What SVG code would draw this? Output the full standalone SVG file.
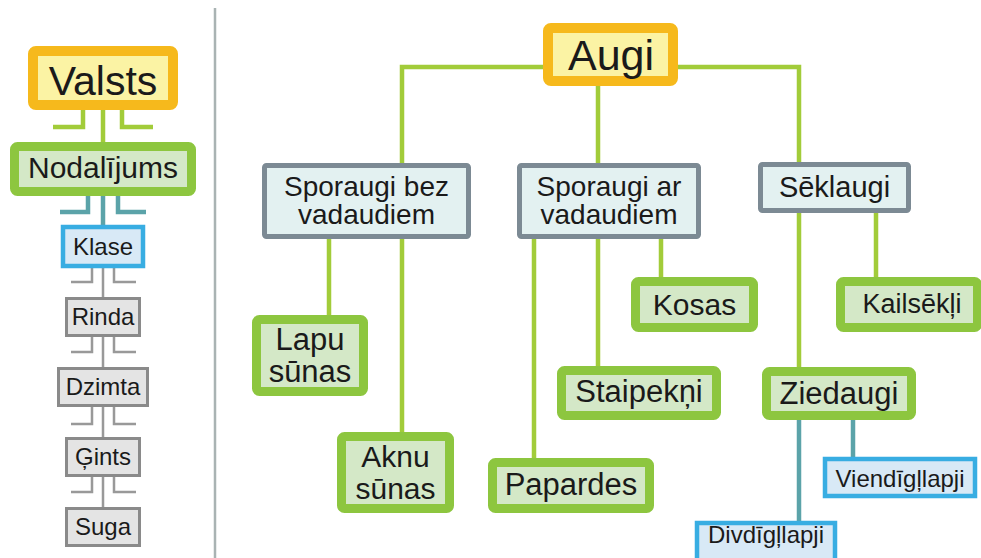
<svg xmlns="http://www.w3.org/2000/svg" width="981" height="558" viewBox="0 0 981 558">
<style>
text{font-family:"Liberation Sans",Arial,sans-serif;fill:#1a1a1a;text-anchor:middle}
.or{fill:#fbf3a4;stroke:#f6b91c;stroke-width:10}
.gr{fill:#d4e8c7;stroke:#8dc63f;stroke-width:9}
.sl{fill:#e3f1f1;stroke:#7c8a94;stroke-width:5}
.bl{fill:#d8e9f6;stroke:#38ade2;stroke-width:4.5}
.gy{fill:#e4e4e4;stroke:#8a8a8a;stroke-width:3}
.lg{fill:none;stroke:#a2cc3a;stroke-width:4.5}
.lt{fill:none;stroke:#5ba3a9;stroke-width:4.5}
.ly{fill:none;stroke:#999;stroke-width:2.5}
</style>
<rect width="981" height="558" fill="#fff"/>
<line x1="215" y1="8" x2="215" y2="558" stroke="#a9b3b3" stroke-width="2.5"/>
<g id="connectors">
<path class="lg" d="M103,110V142M83,110V127H53M122,110V127H153"/>
<path class="lt" d="M103,196V225M88,196V212H60M118,196V212H146"/>
<path class="ly" d="M103,268V297M92,268V282H71M114,268V282H136"/>
<path class="ly" d="M103,337V367M92,337V352H71M114,337V352H136"/>
<path class="ly" d="M103,407V437M92,407V424H71M114,407V424H136"/>
<path class="ly" d="M103,477V507M92,477V492H71M114,477V492H136"/>
<path class="lg" d="M543,67H402V163M678,67H799V162M598,86V163"/>
<path class="lg" d="M329,239V315M402,239V432"/>
<path class="lg" d="M534,239V458M598,239V366M661,239V277"/>
<path class="lg" d="M799,213V367M876,213V277"/>
<path class="lt" d="M799,420V521M853,420V457"/>
</g>
<g id="valsts"><rect class="or" x="33" y="51" width="140" height="54" rx="3"/><text x="103" y="95" font-size="41">Valsts</text></g>
<g id="nodalijums"><rect class="gr" x="14.5" y="146.5" width="177" height="45" rx="3"/><text x="103" y="178" font-size="30">Nodalījums</text></g>
<g id="klase"><rect class="bl" x="63" y="227" width="80" height="39"/><text x="103" y="255" font-size="24">Klase</text></g>
<g id="rinda"><rect class="gy" x="66.5" y="298.5" width="73" height="37"/><text x="103" y="325" font-size="24">Rinda</text></g>
<g id="dzimta"><rect class="gy" x="58.5" y="368.5" width="89" height="37"/><text x="103" y="395" font-size="24">Dzimta</text></g>
<g id="gints"><rect class="gy" x="66.5" y="438.5" width="73" height="37"/><text x="103" y="465" font-size="24">Ģints</text></g>
<g id="suga"><rect class="gy" x="66.5" y="508.5" width="73" height="37"/><text x="103" y="535" font-size="24">Suga</text></g>
<g id="augi"><rect class="or" x="548" y="28" width="125" height="53" rx="3"/><text x="611" y="70" font-size="43">Augi</text></g>
<g id="sporaugi-bez"><rect class="sl" x="264.5" y="165.5" width="204" height="71" rx="2"/><text x="366.5" y="196" font-size="28">Sporaugi bez</text><text x="366.5" y="224" font-size="28">vadaudiem</text></g>
<g id="sporaugi-ar"><rect class="sl" x="519.5" y="165.5" width="179" height="71" rx="2"/><text x="609" y="196" font-size="28">Sporaugi ar</text><text x="609" y="224" font-size="28">vadaudiem</text></g>
<g id="seklaugi"><rect class="sl" x="760.5" y="164.5" width="148" height="46" rx="2"/><text x="834.5" y="197" font-size="29">Sēklaugi</text></g>
<g id="lapu"><rect class="gr" x="256.5" y="319.5" width="107" height="72" rx="3"/><text x="310" y="350" font-size="31">Lapu</text><text x="310" y="382" font-size="31">sūnas</text></g>
<g id="aknu"><rect class="gr" x="341.5" y="436.5" width="108" height="72" rx="3"/><text x="395.5" y="467" font-size="30">Aknu</text><text x="395.5" y="499" font-size="30">sūnas</text></g>
<g id="papardes"><rect class="gr" x="492.5" y="462.5" width="157" height="46" rx="3"/><text x="571" y="495" font-size="31">Papardes</text></g>
<g id="staipekni"><rect class="gr" x="561.5" y="370.5" width="155" height="45" rx="3"/><text x="639" y="402" font-size="31">Staipekņi</text></g>
<g id="kosas"><rect class="gr" x="635.5" y="281.5" width="118" height="46" rx="3"/><text x="694.5" y="315" font-size="30">Kosas</text></g>
<g id="kailsekli"><rect class="gr" x="840.5" y="281.5" width="137" height="46" rx="3"/><text x="912" y="313" font-size="27">Kailsēkļi</text></g>
<g id="ziedaugi"><rect class="gr" x="766.5" y="371.5" width="145" height="44" rx="3"/><text x="839" y="404" font-size="31">Ziedaugi</text></g>
<g id="viendiglapji"><rect class="bl" x="825" y="459" width="150" height="37"/><text x="900" y="487" font-size="24">Viendīgļlapji</text></g>
<g id="divdiglapji"><rect class="bl" x="697" y="523" width="138" height="40"/><text x="766" y="543" font-size="24">Divdīgļlapji</text></g>
</svg>
